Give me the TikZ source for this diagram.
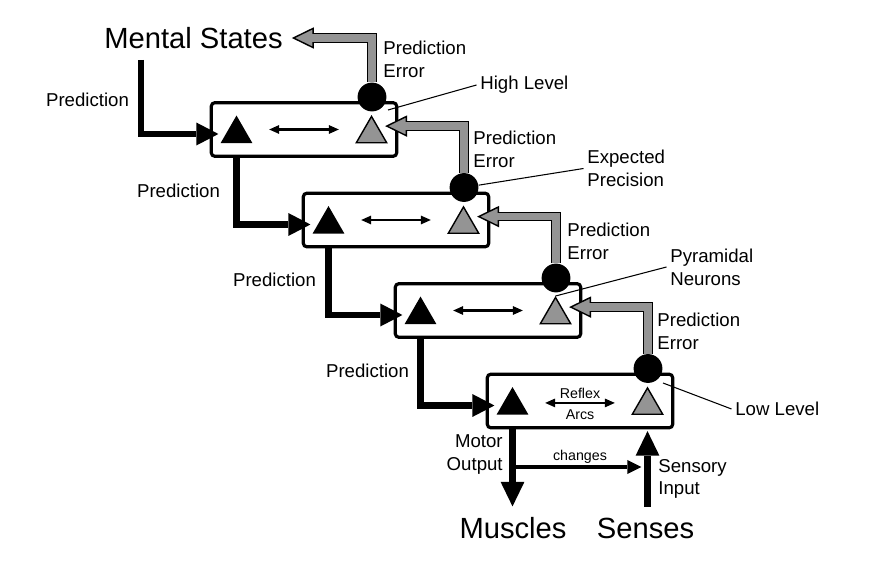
\documentclass[tikz,border=0pt]{standalone}
\usepackage{fontspec}
\setmainfont{Liberation Sans}
\usepackage{tikz}
\usetikzlibrary{arrows.meta,shapes.geometric}
\definecolor{EGray}{rgb}{0.58,0.58,0.58}
\tikzset{level/.style={draw,line width=1.8pt,rounded corners=2pt,fill=white,
  minimum width=105.5pt,minimum height=30.5pt,inner sep=0pt},
  prior/.style={regular polygon,regular polygon sides=3,fill=black,
  minimum size=21pt,inner sep=0pt},
  sensor/.style={regular polygon,regular polygon sides=3,draw,line width=0.8pt,
  fill=EGray,minimum size=20pt,inner sep=0pt},
  unit/.style={circle,fill=black,minimum size=16.4pt,inner sep=0pt},
  pred/.style={line width=3.7pt,
  -{Triangle[length=12.5pt,width=13pt,line width=0pt]},shorten >=4pt},
  err/.style={draw=black,line width=5.3pt,line join=miter,
  -{Triangle[length=12.5pt,width=12pt,line width=0.8pt,fill=EGray]},
  postaction={draw=EGray,line width=4.1pt,-,shorten >=11pt}},
  link/.style={line width=1.5pt,
  {Triangle[length=5.6pt,width=5pt,line width=0pt]}-{Triangle[length=5.6pt,width=5pt,line width=0pt]}},
  motor/.style={line width=4pt,
  -{Triangle[length=14pt,width=13.6pt,line width=0pt]}},
  change/.style={line width=2.8pt,
  -{Triangle[length=8pt,width=8pt,line width=0pt]},shorten >=3.5pt},
  pin/.style={line width=0.6pt},
  lbl/.style={font=\fontsize{10.6}{13}\selectfont,align=left,inner sep=2pt},
  big/.style={font=\fontsize{16.6}{20}\selectfont,inner sep=2pt},
  small/.style={font=\fontsize{8.1}{10}\selectfont}}

\begin{document}
\begin{tikzpicture}[x=0.2mm,y=-0.2mm]
\useasboundingbox (0,0) rectangle (872,567);

\node[level] (box1) at (304,129.5) {};
\node[level] (box2) at (396,220) {};
\node[level] (box3) at (488,310.5) {};
\node[level] (box4) at (580,401) {};

\node[prior] (tb1) at (236.5,134) {};
\node[prior] (tb2) at (328.5,224.5) {};
\node[prior] (tb3) at (420.5,315) {};
\node[prior] (tb4) at (512.5,405.5) {};

\node[sensor] (tg1) at (371.5,134) {};
\node[sensor] (tg2) at (463.5,224.5) {};
\node[sensor] (tg3) at (555.5,315) {};
\node[sensor] (tg4) at (647.5,405.5) {};

\node[unit] (c1) at (372,97) {};
\node[unit] (c2) at (464,187.5) {};
\node[unit] (c3) at (556,278) {};
\node[unit] (c4) at (648,368.5) {};

\draw[link] ([xshift=-19.8pt]box1.center) -- ([xshift=19.8pt]box1.center);
\draw[link] ([xshift=-19.8pt]box2.center) -- ([xshift=19.8pt]box2.center);
\draw[link] ([xshift=-19.8pt]box3.center) -- ([xshift=19.8pt]box3.center);
\draw[link] ([xshift=-19.8pt,yshift=-1.1pt]box4.center) -- node[small,above,inner sep=1.6pt] {Reflex}
  node[small,below] {Arcs} ([xshift=19.8pt,yshift=-1.1pt]box4.center);

\node[big] (mental) at (193.5,38) {Mental States};
\node[big] (muscles) at (513,528) {Muscles};
\node[big] (senses) at (645.5,528) {Senses};

\coordinate (top) at (141,60);
\draw[pred] (top) |- (tb1.west);
\draw[pred] (tb1 |- box1.south) |- (tb2.west);
\draw[pred] (tb2 |- box2.south) |- (tb3.west);
\draw[pred] (tb3 |- box3.south) |- (tb4.west);

\node[lbl] (p1) at (87.5,100) {Prediction};
\node[lbl] (p2) at (178.5,191) {Prediction};
\node[lbl] (p3) at (274.5,280) {Prediction};
\node[lbl] (p4) at (367.5,371) {Prediction};

\draw[err] (c1.north) |- ([xshift=3pt]mental.east);
\draw[err] (c2.north) |- ([xshift=1.5pt,yshift=4.5pt]tg1.east);
\draw[err] (c3.north) |- ([xshift=1.5pt,yshift=4.5pt]tg2.east);
\draw[err] (c4.north) |- ([xshift=1.5pt,yshift=4.5pt]tg3.east);

\node[lbl,anchor=west] (e1) at (379.5,59.5) {Prediction\\Error};
\node[lbl,anchor=west] (e2) at (469.5,149.5) {Prediction\\Error};
\node[lbl,anchor=west] (e3) at (563.5,241) {Prediction\\Error};
\node[lbl,anchor=west] (e4) at (653.5,331) {Prediction\\Error};

\coordinate (hlp) at (388,110);
\node[lbl,anchor=west] (high) at (476.5,85) {High Level};
\draw[pin] (hlp) -- (high.west);
\node[lbl,anchor=west] (prec) at (583.5,168.5) {Expected\\Precision};
\draw[pin] (c2) -- (prec.west);
\node[lbl,anchor=west] (pyr) at (666.5,267) {Pyramidal\\Neurons};
\draw[pin] (pyr.west) -- (tg3.north);
\coordinate (llp) at (663,383);
\node[lbl,anchor=west] (low) at (731.5,409) {Low Level};
\draw[pin] (llp) -- (low.west);

\draw[motor,shorten >=4pt] (tb4 |- box4.south) -- (tb4 |- muscles.north);
\draw[motor,shorten <=4pt,shorten >=1pt] (tg4 |- senses.north) -- (tg4 |- box4.south);
\coordinate (chg) at (512.5,467);
\draw[change] (chg) -- node[small,above,inner sep=0.8pt] {changes} (chg -| tg4);

\node[lbl,align=right,anchor=east] (mo) at (506.5,454.5) {Motor\\Output};
\node[lbl,anchor=west] (si) at (654.5,479) {Sensory\\Input};
\end{tikzpicture}
\end{document}
